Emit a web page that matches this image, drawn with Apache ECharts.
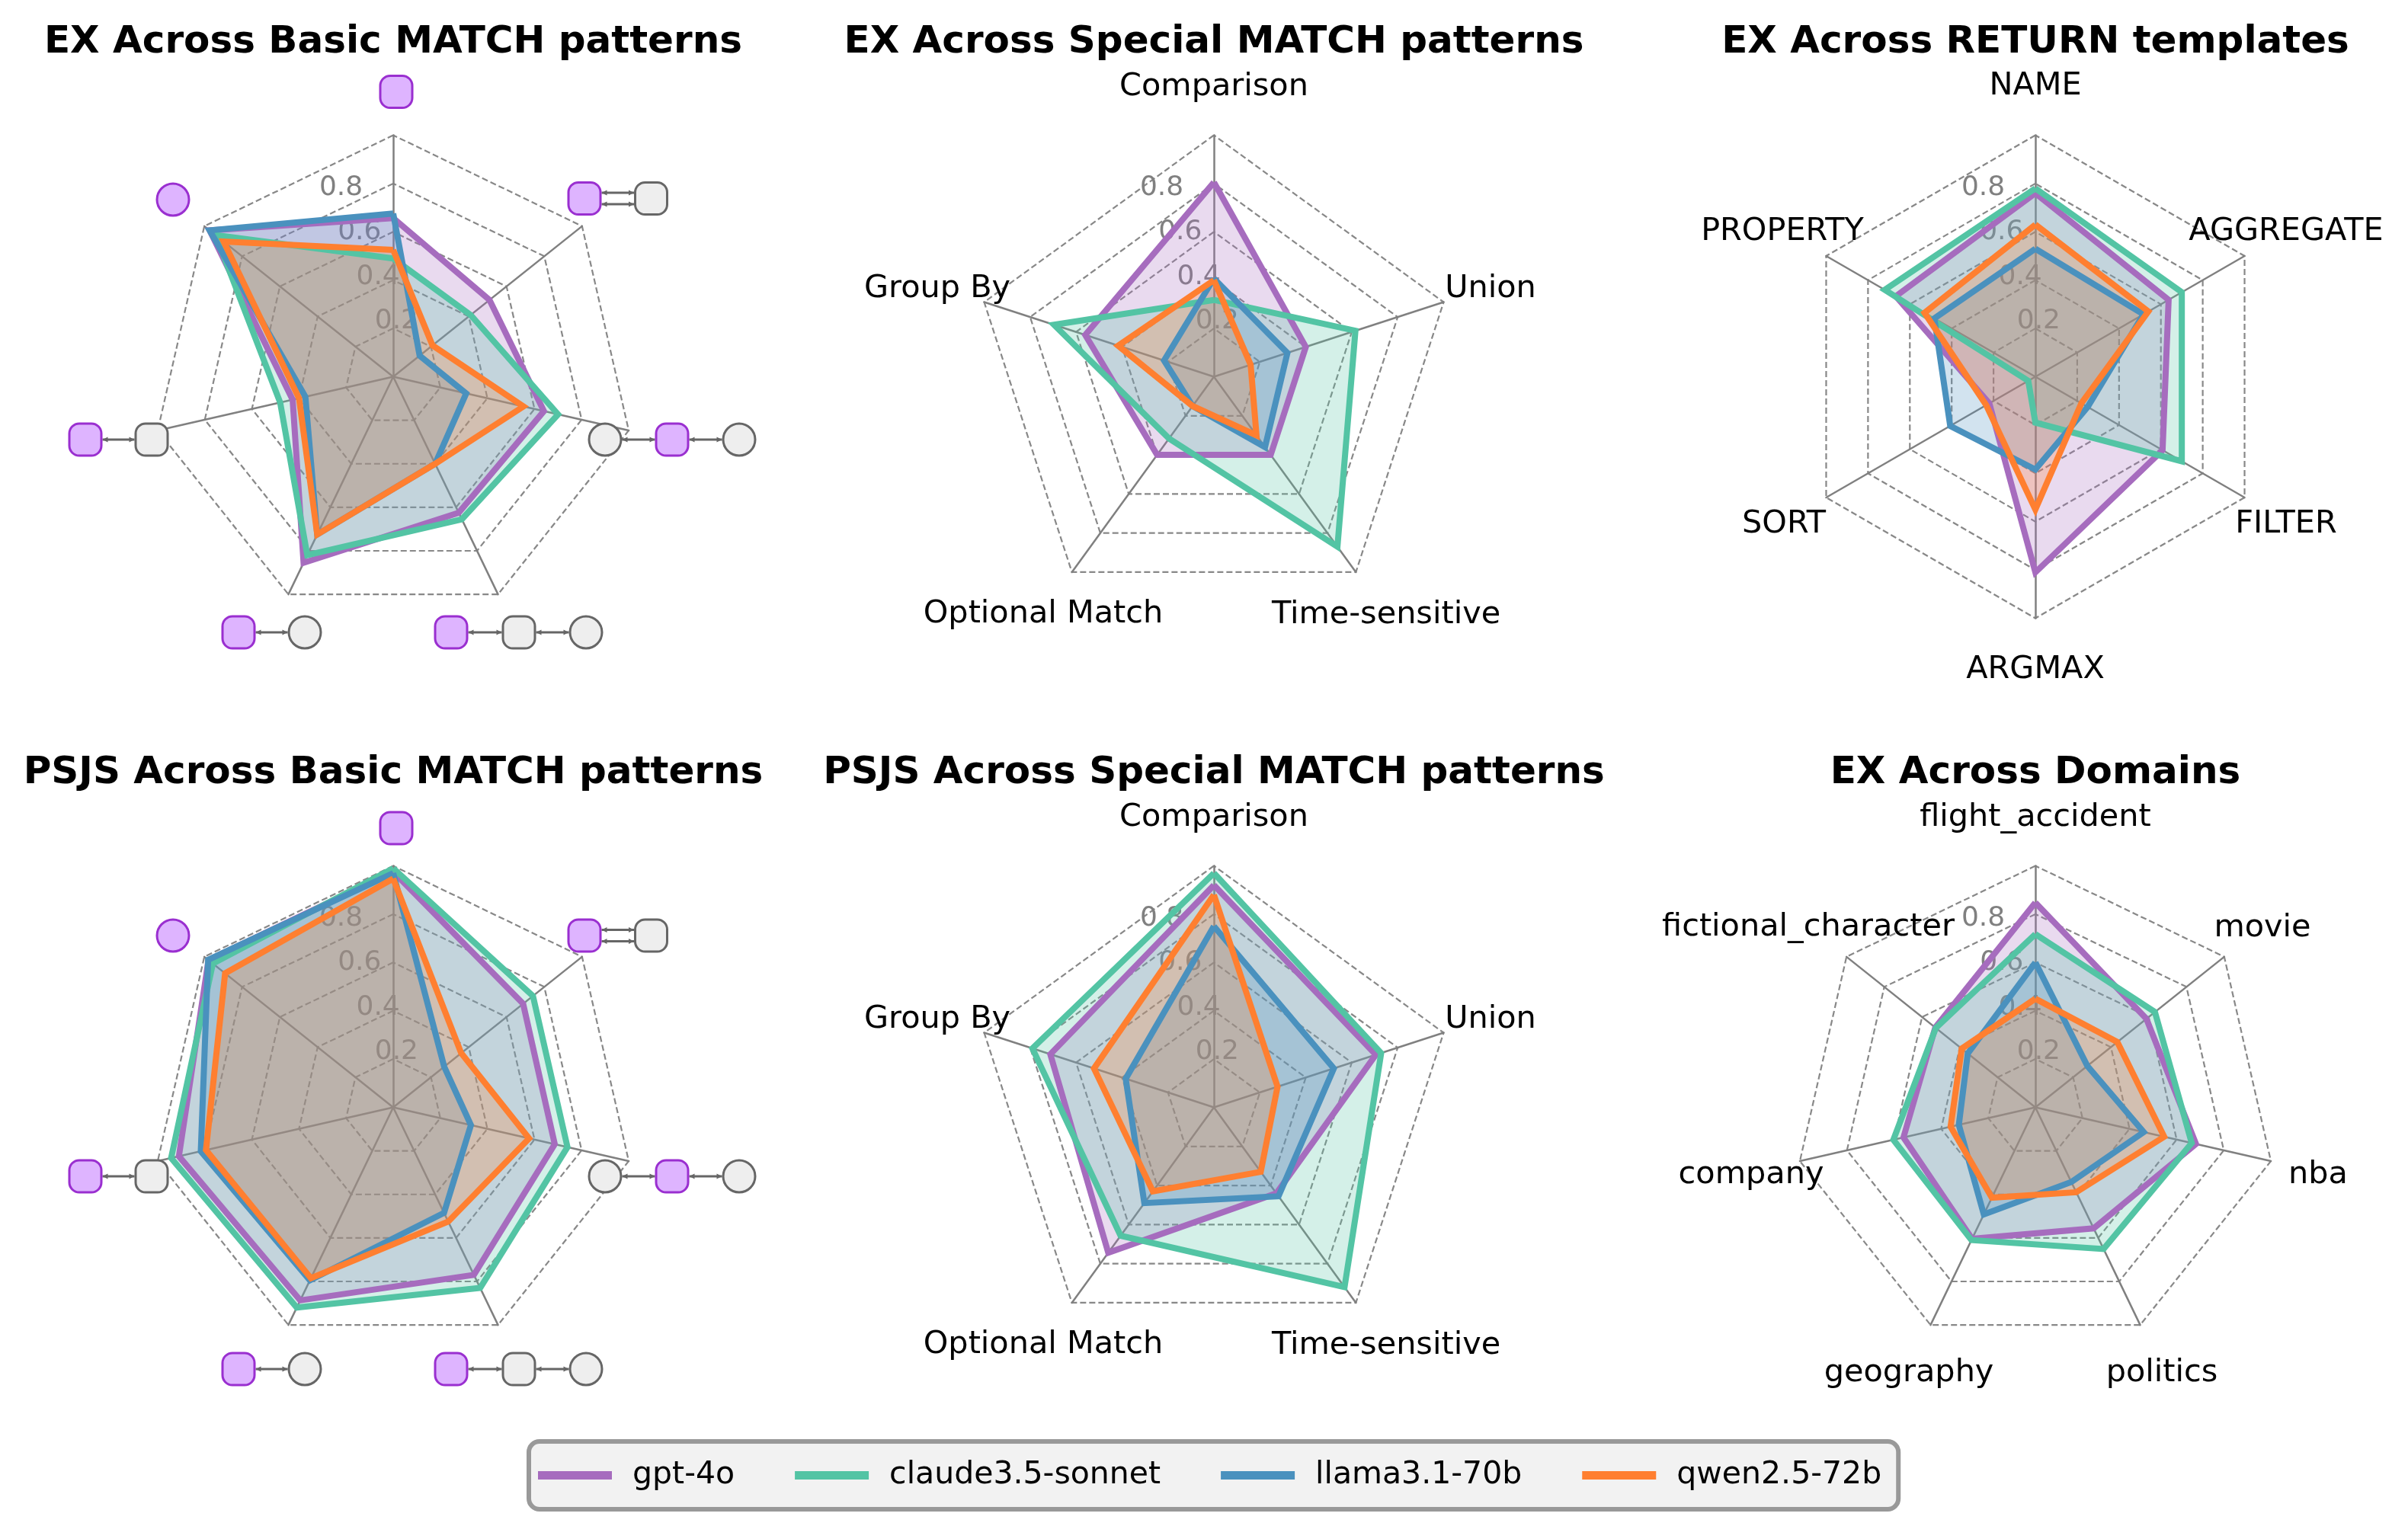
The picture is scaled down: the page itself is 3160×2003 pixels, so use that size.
<!DOCTYPE html>
<html>
<head>
<meta charset="utf-8">
<style>html,body{margin:0;padding:0;background:#fff}#c{width:3160px;height:2003px}</style>
<script src="https://cdn.jsdelivr.net/npm/echarts@6/dist/echarts.min.js"></script>
</head>
<body>
<div id="c"></div>
<script>
// ---------- data (clockwise from the top axis) ----------
const models = ['gpt-4o', 'claude3.5-sonnet', 'llama3.1-70b', 'qwen2.5-72b'];
const tickLabels = ['0.2', '0.4', '0.6', '0.8'];

const specialCats = ['Comparison', 'Union', 'Time-sensitive', 'Optional Match', 'Group By'];
const returnCats = ['NAME', 'AGGREGATE', 'FILTER', 'ARGMAX', 'SORT', 'PROPERTY'];
const domainCats = ['flight_accident', 'movie', 'nba', 'politics', 'geography', 'company', 'fictional_character'];

const exBasicGpt = [0.657, 0.51, 0.64, 0.625, 0.855, 0.427, 0.972];
const exBasicClaude = [0.49, 0.41, 0.70, 0.655, 0.82, 0.48, 0.94];
const exBasicLlama = [0.676, 0.14, 0.31, 0.40, 0.725, 0.373, 0.972];
const exBasicQwen = [0.525, 0.208, 0.553, 0.40, 0.725, 0.40, 0.898];

const exSpecialGpt = [0.805, 0.40, 0.40, 0.40, 0.56];
const exSpecialClaude = [0.318, 0.616, 0.87, 0.316, 0.696];
const exSpecialLlama = [0.407, 0.32, 0.36, 0.15, 0.217];
const exSpecialQwen = [0.40, 0.16, 0.30, 0.15, 0.417];

const exReturnGpt = [0.76, 0.637, 0.608, 0.81, 0.22, 0.667];
const exReturnClaude = [0.78, 0.70, 0.70, 0.19, 0.034, 0.72];
const exReturnLlama = [0.53, 0.517, 0.25, 0.384, 0.407, 0.483];
const exReturnQwen = [0.63, 0.54, 0.22, 0.55, 0.235, 0.53];

const psjsBasicGpt = [0.976, 0.688, 0.686, 0.77, 0.887, 0.91, 0.978];
const psjsBasicClaude = [0.99, 0.74, 0.74, 0.83, 0.92, 0.943, 0.955];
const psjsBasicLlama = [0.97, 0.27, 0.33, 0.485, 0.795, 0.817, 0.98];
const psjsBasicQwen = [0.947, 0.36, 0.577, 0.525, 0.785, 0.795, 0.89];

const psjsSpecialGpt = [0.92, 0.705, 0.44, 0.744, 0.712];
const psjsSpecialClaude = [0.97, 0.728, 0.92, 0.657, 0.79];
const psjsSpecialLlama = [0.75, 0.522, 0.455, 0.49, 0.384];
const psjsSpecialQwen = [0.88, 0.277, 0.33, 0.43, 0.522];

const exDomainGpt = [0.848, 0.588, 0.682, 0.556, 0.604, 0.56, 0.53];
const exDomainClaude = [0.717, 0.633, 0.664, 0.651, 0.61, 0.603, 0.527];
const exDomainLlama = [0.60, 0.275, 0.46, 0.343, 0.492, 0.325, 0.358];
const exDomainQwen = [0.45, 0.434, 0.547, 0.39, 0.415, 0.36, 0.39];

// ---------- styling and layout ----------
const colors = ['#a66cbe', '#53c4a4', '#4a91be', '#ff7f30'];
const FONT = 'DejaVu Sans';
const R = 317;
const NAME_SIZE = 41.4, TITLE_SIZE = 50, TICK_SIZE = 36;

const namePosSpecial = [[0, -380], [363, -115], [226, 313], [-224, 312], [-363, -115]];
const namePosReturn = [[0, -381], [329, -190], [329, 194], [0, 385], [-330, 194], [-332, -190]];
const namePosDomain = [[0, -380], [298, -235], [371, 89], [166, 349], [-166, 349], [-373, 89], [-298, -236]];

const panels = [
  {title: 'EX Across Basic MATCH patterns', c: [516, 494.5], titleY: 56, n: 7, icons: 0,
   vals: [exBasicGpt, exBasicClaude, exBasicLlama, exBasicQwen]},
  {title: 'EX Across Special MATCH patterns', c: [1593, 494.5], titleY: 56, cats: specialCats, pos: namePosSpecial,
   vals: [exSpecialGpt, exSpecialClaude, exSpecialLlama, exSpecialQwen]},
  {title: 'EX Across RETURN templates', c: [2671, 494.5], titleY: 56, cats: returnCats, pos: namePosReturn,
   vals: [exReturnGpt, exReturnClaude, exReturnLlama, exReturnQwen]},
  {title: 'PSJS Across Basic MATCH patterns', c: [516, 1453.5], titleY: 1015, n: 7, icons: 1,
   vals: [psjsBasicGpt, psjsBasicClaude, psjsBasicLlama, psjsBasicQwen]},
  {title: 'PSJS Across Special MATCH patterns', c: [1593, 1453.5], titleY: 1015, cats: specialCats, pos: namePosSpecial,
   vals: [psjsSpecialGpt, psjsSpecialClaude, psjsSpecialLlama, psjsSpecialQwen]},
  {title: 'EX Across Domains', c: [2671, 1453.5], titleY: 1015, cats: domainCats, pos: namePosDomain,
   vals: [exDomainGpt, exDomainClaude, exDomainLlama, exDomainQwen]}
];

// small pattern-graph glyphs standing in for axis labels of the Basic MATCH panels
const glyphRows = [
  {base: 497, top: -376.5, a1: -236.5, a2: 80, a3: 333, a6: -235},
  {base: 1456, top: -369, a1: -228, a2: 88, a3: 341, a6: -228}
];

// ECharts lays radar axes out counter-clockwise; the data above reads clockwise
const ccw = a => [a[0]].concat(a.slice(1).reverse());

const graphics = [];
const text = (s, x, y, o) => graphics.push({type: 'text', x, y, z: o.z || 5, silent: true,
  style: {text: s, fontFamily: FONT, fontSize: o.size, fontWeight: o.weight || 'normal',
          fill: o.fill || '#000', textAlign: o.align || 'center', textVerticalAlign: o.vAlign || 'middle'}});

const NODE = 42, HALF = NODE / 2;
function node(x, y, kind, hue) {
  const style = hue === 'p' ? {fill: '#deb4ff', stroke: '#9a2fd0', lineWidth: 3}
                            : {fill: '#eeeeee', stroke: '#666666', lineWidth: 3};
  if (kind === 'c') {
    graphics.push({type: 'circle', z: 6, silent: true, shape: {cx: x, cy: y, r: HALF}, style});
  } else {
    graphics.push({type: 'rect', z: 6, silent: true, shape: {x: x - HALF, y: y - HALF, width: NODE, height: NODE, r: 13}, style});
  }
}
function edge(x1, x2, y) {
  const a = x1 + HALF + 1.5, b = x2 - HALF - 1.5;
  graphics.push({type: 'line', z: 5, silent: true, shape: {x1: a, y1: y, x2: b, y2: y}, style: {stroke: '#666666', lineWidth: 3}});
  graphics.push({type: 'polygon', z: 5, silent: true, shape: {points: [[a, y], [a + 7, y - 3.5], [a + 7, y + 3.5]]}, style: {fill: '#666666'}});
  graphics.push({type: 'polygon', z: 5, silent: true, shape: {points: [[b, y], [b - 7, y - 3.5], [b - 7, y + 3.5]]}, style: {fill: '#666666'}});
}
function glyphs(row) {
  const cx = 518, Y = glyphRows[row], cy = Y.base;
  node(cx + 2, cy + Y.top, 's', 'p');
  edge(cx + 249, cx + 336.5, cy + Y.a1 - 7.5);
  edge(cx + 249, cx + 336.5, cy + Y.a1 + 7.5);
  node(cx + 249, cy + Y.a1, 's', 'p'); node(cx + 336.5, cy + Y.a1, 's', 'g');
  edge(cx + 276, cx + 364, cy + Y.a2); edge(cx + 364, cx + 452, cy + Y.a2);
  node(cx + 276, cy + Y.a2, 'c', 'g'); node(cx + 364, cy + Y.a2, 's', 'p'); node(cx + 452, cy + Y.a2, 'c', 'g');
  edge(cx + 74, cx + 163, cy + Y.a3); edge(cx + 163, cx + 251, cy + Y.a3);
  node(cx + 74, cy + Y.a3, 's', 'p'); node(cx + 163, cy + Y.a3, 's', 'g'); node(cx + 251, cy + Y.a3, 'c', 'g');
  edge(cx - 205, cx - 118, cy + Y.a3);
  node(cx - 205, cy + Y.a3, 's', 'p'); node(cx - 118, cy + Y.a3, 'c', 'g');
  edge(cx - 406, cx - 319, cy + Y.a2);
  node(cx - 406, cy + Y.a2, 's', 'p'); node(cx - 319, cy + Y.a2, 's', 'g');
  node(cx - 291, cy + Y.a6, 'c', 'p');
}

const radars = [], lineSeries = [], areaSeries = [];
panels.forEach((p, pi) => {
  const [cx, cy] = p.c;
  const n = p.cats ? p.cats.length : p.n;
  const names = p.cats || new Array(n).fill('');
  radars.push({
    center: [cx, cy], radius: R, startAngle: 90, shape: 'polygon', splitNumber: 5,
    indicator: ccw(names).map(name => ({name, min: 0, max: 1})),
    axisName: {show: false},
    axisLine: {show: true, lineStyle: {color: '#808080', width: 2.5}},
    axisTick: {show: false}, axisLabel: {show: false},
    splitLine: {show: true, lineStyle: {color: '#888888', width: 2.2, type: [8, 4]}},
    splitArea: {show: false}
  });
  // all translucent fills lie beneath all outlines
  models.forEach((m, mi) => {
    lineSeries.push({
      type: 'radar', radarIndex: pi, name: m, symbol: 'none', z: 3 + mi * 0.01,
      lineStyle: {color: colors[mi], width: 8, join: 'miter', cap: 'butt'},
      itemStyle: {color: colors[mi]},
      data: [{value: ccw(p.vals[mi]), name: m}]
    });
    areaSeries.push({
      type: 'radar', radarIndex: pi, name: m, symbol: 'none', z: 2 + mi * 0.01,
      lineStyle: {width: 0, opacity: 0},
      itemStyle: {color: colors[mi]},
      areaStyle: {color: colors[mi], opacity: 0.25},
      data: [{value: ccw(p.vals[mi]), name: m}]
    });
  });
  text(p.title, cx, p.titleY, {size: TITLE_SIZE, weight: 'bold'});
  if (p.cats) p.cats.forEach((s, i) => text(s, cx + p.pos[i][0], cy + p.pos[i][1], {size: NAME_SIZE}));
  else glyphs(p.icons);
  // radial tick labels sit along the 22.5-degree ray, beneath the polygons
  const ray = 22.5 * Math.PI / 180;
  tickLabels.forEach(t => {
    const r = parseFloat(t) * R;
    text(t, cx - r * Math.sin(ray), cy - r * Math.cos(ray) + 4, {size: TICK_SIZE, fill: '#808080', align: 'left', vAlign: 'bottom', z: 1});
  });
});

const chart = echarts.init(document.getElementById('c'), null, {width: 3160, height: 2003, renderer: 'canvas', devicePixelRatio: 1});
chart.setOption({
  backgroundColor: '#ffffff',
  animation: false,
  radar: radars,
  series: lineSeries.concat(areaSeries),
  legend: {
    show: true, data: models, orient: 'horizontal', left: 694, top: 1892,
    icon: 'rect', itemWidth: 97, itemHeight: 11, itemGap: 79,
    padding: [24, 22, 24, 12], backgroundColor: '#f2f2f2', borderColor: '#999999', borderWidth: 6, borderRadius: 14,
    textStyle: {fontFamily: FONT, fontSize: 41, color: '#000', padding: [0, 0, 0, 22]},
    selectedMode: false
  },
  graphic: {elements: graphics}
});
</script>
</body>
</html>
